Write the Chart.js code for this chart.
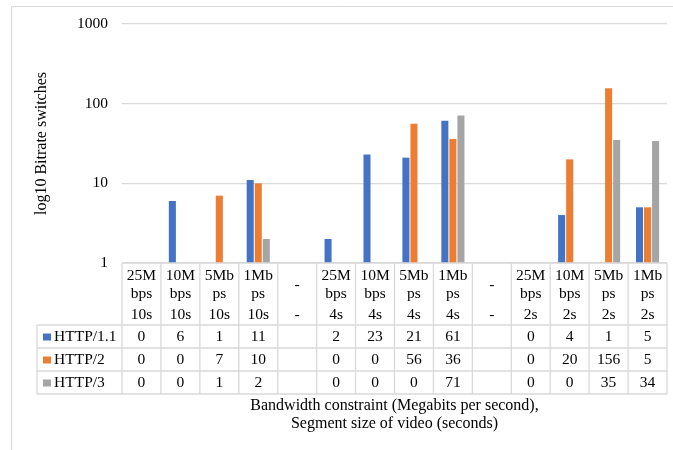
<!DOCTYPE html>
<html>
<head>
<meta charset="utf-8">
<script src="https://cdn.jsdelivr.net/npm/chart.js@4"></script>
<style>
html,body{margin:0;padding:0;background:#fff;}
#wrap{position:relative;width:673px;height:450px;}
</style>
</head>
<body>
<div id="wrap"><canvas id="c" width="673" height="450"></canvas></div>
<script>
const categories = [
  ["25M","bps","10s"],["10M","bps","10s"],["5Mb","ps","10s"],["1Mb","ps","10s"],["-","-"],
  ["25M","bps","4s"],["10M","bps","4s"],["5Mb","ps","4s"],["1Mb","ps","4s"],["-","-"],
  ["25M","bps","2s"],["10M","bps","2s"],["5Mb","ps","2s"],["1Mb","ps","2s"]
];
const seriesNames = ["HTTP/1.1","HTTP/2","HTTP/3"];
const http11 = [0,6,1,11,null,2,23,21,61,null,0,4,1,5];
const http2  = [0,0,7,10,null,0,0,56,36,null,0,20,156,5];
const http3  = [0,0,1,2,null,0,0,0,71,null,0,0,35,34];
const yTicks = [1,10,100,1000];
const colors = ["#4472C4","#ED7D31","#A5A5A5"];
const yTitle = "log10 Bitrate switches";
const xTitle = ["Bandwidth constraint (Megabits per second),","Segment size of video (seconds)"];

const seriesValues = [http11, http2, http3];
const FONT = "Liberation Serif, 'Times New Roman', serif";
const GRID = "#D9D9D9";

const tablePlugin = {
  id: 'tablePlugin',
  beforeDraw(chart) {
    const ctx = chart.ctx;
    ctx.save();
    ctx.fillStyle = '#fff';
    ctx.fillRect(0, 0, chart.width, chart.height);
    ctx.strokeStyle = GRID;
    ctx.lineWidth = 1;
    ctx.beginPath();
    ctx.moveTo(11.5, 450); ctx.lineTo(11.5, 6.5); ctx.lineTo(673, 6.5);
    ctx.stroke();
    ctx.restore();
  },
  afterDraw(chart) {
    const ctx = chart.ctx;
    const a = chart.chartArea;
    const n = categories.length;
    const w = (a.right - a.left) / n;
    const top = a.bottom;
    const hdrBottom = top + 62;
    const rowH = 23;
    const legLeft = 37;
    const tblBottom = hdrBottom + rowH * 3;
    ctx.save();
    ctx.strokeStyle = GRID;
    ctx.lineWidth = 1.3;
    ctx.beginPath();
    ctx.moveTo(a.left, top); ctx.lineTo(a.right, top);
    for (let r = 0; r <= 3; r++) {
      const y = hdrBottom + r * rowH;
      ctx.moveTo(legLeft, y); ctx.lineTo(a.right, y);
    }
    for (let i = 0; i <= n; i++) {
      const x = a.left + i * w;
      ctx.moveTo(x, top); ctx.lineTo(x, tblBottom);
    }
    ctx.moveTo(legLeft, hdrBottom); ctx.lineTo(legLeft, tblBottom);
    ctx.stroke();

    ctx.fillStyle = '#000';
    ctx.font = "15.5px " + FONT;
    ctx.textAlign = 'center';
    ctx.textBaseline = 'middle';
    categories.forEach((lab, i) => {
      const cx = chart.scales.x.getPixelForValue(i);
      if (lab.length === 3) {
        ctx.fillText(lab[0], cx, top + 12.5);
        ctx.fillText(lab[1], cx, top + 30.5);
        ctx.fillText(lab[2], cx, top + 52);
      } else {
        ctx.fillText(lab[0], cx, top + 22);
        ctx.fillText(lab[1], cx, top + 52);
      }
    });
    seriesValues.forEach((vals, s) => {
      const cy = hdrBottom + rowH * s + rowH / 2 + 0.5;
      vals.forEach((v, i) => {
        if (v === null) return;
        const cx = chart.scales.x.getPixelForValue(i);
        ctx.fillText(String(v), cx, cy);
      });
      ctx.fillStyle = colors[s];
      ctx.fillRect(43, cy - 3.5, 8, 7);
      ctx.fillStyle = '#000';
      ctx.textAlign = 'left';
      ctx.fillText(seriesNames[s], 54, cy);
      ctx.textAlign = 'center';
    });
    ctx.restore();
  }
};

new Chart(document.getElementById('c'), {
  type: 'bar',
  data: {
    labels: categories.map(c => c.join(' ')),
    datasets: seriesNames.map((name, s) => ({
      label: name,
      data: seriesValues[s].map(v => (v === null || v === 0) ? null : v),
      backgroundColor: colors[s],
      borderWidth: 0,
      categoryPercentage: 0.62,
      barPercentage: 0.875
    }))
  },
  options: {
    responsive: false,
    animation: false,
    devicePixelRatio: 1,
    layout: { padding: { top: 24, right: 6, bottom: 0, left: 0 } },
    plugins: { legend: { display: false }, tooltip: { enabled: false } },
    scales: {
      x: {
        grid: { display: false },
        border: { display: false },
        ticks: { display: false },
        title: {
          display: true,
          text: xTitle,
          color: '#000',
          font: { family: FONT, size: 16, lineHeight: 1.15 },
          padding: { top: 0, bottom: 17 }
        },
        afterFit(scale) { scale.height = 187; }
      },
      y: {
        type: 'logarithmic',
        min: 1,
        max: 1000,
        afterBuildTicks(scale) { scale.ticks = yTicks.map(v => ({ value: v })); },
        ticks: {
          color: '#000',
          font: { family: FONT, size: 15.5 },
          padding: 14,
          callback: v => String(v)
        },
        grid: { color: GRID, lineWidth: 1.3, drawTicks: false },
        border: { display: false },
        title: {
          display: true,
          text: yTitle,
          color: '#000',
          font: { family: FONT, size: 16, lineHeight: 1.2 },
          padding: { top: 32, bottom: 0 }
        },
        afterFit(scale) { scale.width = 122; }
      }
    }
  },
  plugins: [tablePlugin]
});
</script>
</body>
</html>
